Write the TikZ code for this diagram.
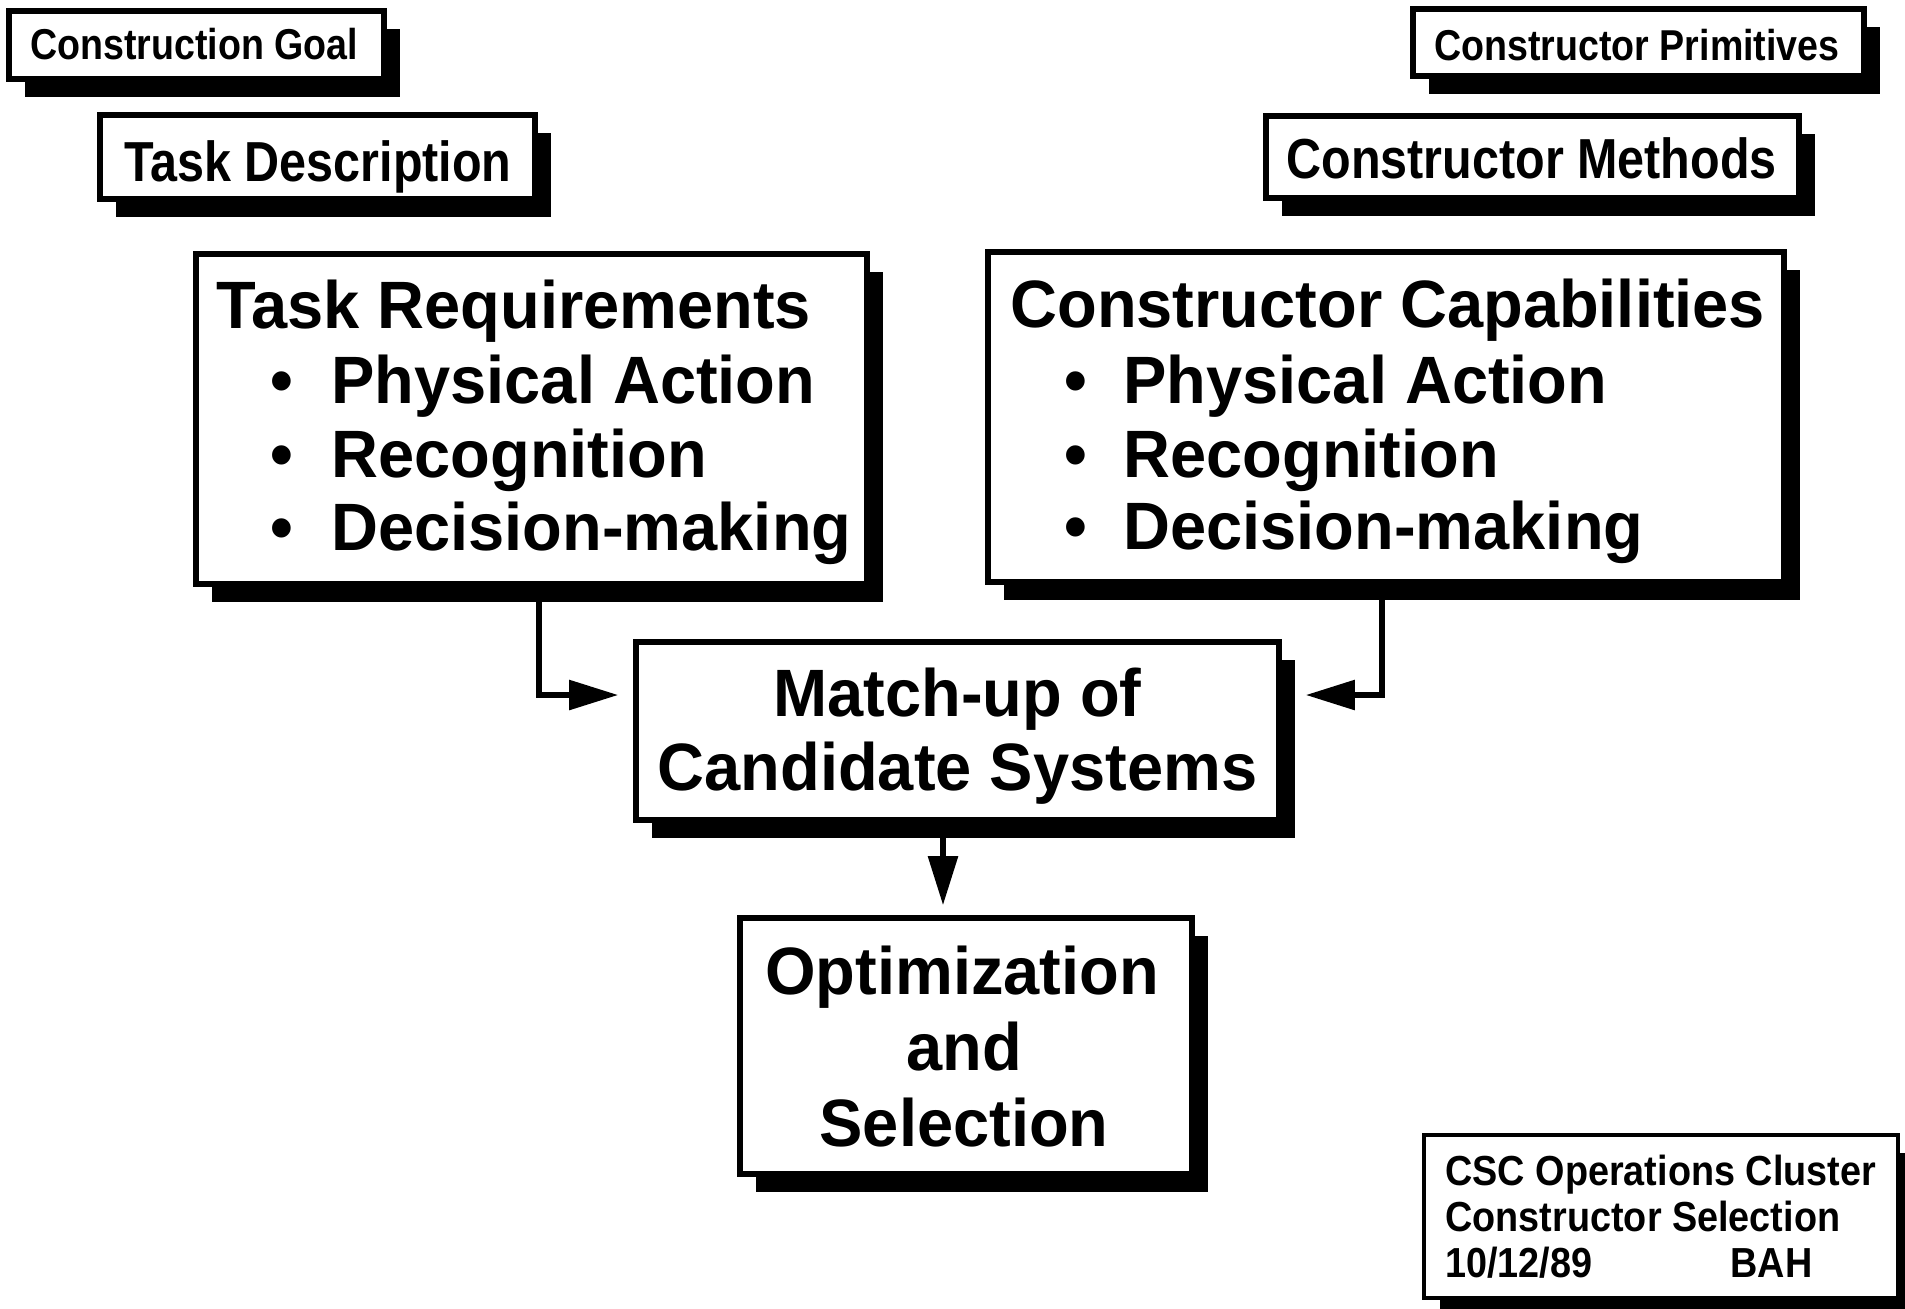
\documentclass[tikz,border=0pt]{standalone}
\usepackage{fontspec}
\setmainfont{Liberation Sans}
\newfontfamily\fontL[FakeStretch=0.97]{Liberation Sans}
\newfontfamily\fontM[FakeStretch=0.86]{Liberation Sans}
\newfontfamily\fontS[FakeStretch=0.87]{Liberation Sans}
\newfontfamily\fontC[FakeStretch=0.9]{Liberation Sans}
\usetikzlibrary{arrows.meta,shadows,fit,calc}
\begin{document}
\begin{tikzpicture}[x=0.5pt,y=-0.5pt,
  box/.style={draw=black, line width=2.8pt, fill=white, inner sep=0pt,
    drop shadow={shadow xshift=8pt, shadow yshift=-9pt, fill=black, opacity=1}},
  thinbox/.style={box, line width=2.2pt},
  conn/.style={line width=2.8pt, -{Triangle[length=24.5pt,width=14.5pt]}},
  lt/.style={inner sep=0pt, anchor=base west},
  ct/.style={inner sep=0pt, anchor=base},
  big/.style={font=\fontL\bfseries\fontsize{33.5}{40}\selectfont},
  mid/.style={font=\fontM\bfseries\fontsize{28.2}{34}\selectfont},
  sml/.style={font=\fontS\bfseries\fontsize{21.6}{26}\selectfont},
  csc/.style={font=\fontC\bfseries\fontsize{21}{25}\selectfont}]
\useasboundingbox[fill=white] (0,0) rectangle (1905,1308);

% boxes
\node[box, fit={(9,11)(384,79)}] (cg) {};
\node[box, fit={(100,115)(535,199)}] (td) {};
\node[box, fit={(1413,9)(1864,76)}] (cp) {};
\node[box, fit={(1266,116)(1799,198)}] (cm) {};
\node[box, fit={(196,254)(867,584)}] (tr) {};
\node[box, fit={(988,252)(1784,582)}] (cc) {};
\node[box, fit={(636,642)(1279,820)}] (mu) {};
\node[box, fit={(740,918)(1192,1174)}] (os) {};
\node[thinbox, fit={(1424,1135)(1898,1298)}] (cs) {};

% small / medium labels
\node[lt, sml] (cgt) at (30,59) {Construction Goal};
\node[lt, mid] (tdt) at (124,181) {Task Description};
\node[lt, sml] (cpt) at (1434,60) {Constructor Primitives};
\node[lt, mid] (cmt) at (1286,178) {Constructor Methods};

% task requirements
\node[lt, big] (trh) at (216,328) {Task Requirements};
\node[ct, big] (trb1) at (282,403) {\textbullet};
\node[ct, big] (trb2) at (282,477) {\textbullet};
\node[ct, big] (trb3) at (282,550) {\textbullet};
\node[lt, big] (tr1) at (331,403) {Physical Action};
\node[lt, big] (tr2) at (331,477) {Recognition};
\node[lt, big] (tr3) at (331,550) {Decision-making};

% constructor capabilities
\node[lt, big] (cch) at (1010,327) {Constructor Capabilities};
\node[ct, big] (ccb1) at (1076,403) {\textbullet};
\node[ct, big] (ccb2) at (1076,477) {\textbullet};
\node[ct, big] (ccb3) at (1076,549) {\textbullet};
\node[lt, big] (cc1) at (1123,403) {Physical Action};
\node[lt, big] (cc2) at (1123,477) {Recognition};
\node[lt, big] (cc3) at (1123,549) {Decision-making};

% match-up
\node[ct, big] (mu1) at (957.5,716) {Match-up of};
\node[ct, big] (mu2) at (957.5,790) {Candidate Systems};

% optimization
\node[ct, big] (os1) at (962,994) {Optimization};
\node[ct, big] (os2) at (964,1070) {and};
\node[ct, big] (os3) at (964,1146) {Selection};

% stamp
\node[lt, csc] (cs1) at (1445,1185) {CSC Operations Cluster};
\node[lt, csc] (cs2) at (1445,1231) {Constructor Selection};
\node[lt, csc] (cs3) at (1445,1277) {10/12/89};
\node[lt, csc] (cs4) at (1730,1277) {BAH};

% connectors
\draw[conn] ([xshift=3.75pt]tr.south) |- ([xshift=-7.5pt,yshift=18pt]mu.west);
\draw[conn] ([xshift=-2pt]cc.south) |- ([xshift=12pt,yshift=18pt]mu.east);
\draw[conn] ([xshift=-7.25pt]mu.south) -- ($(mu.south |- os.north)+(-7.25pt,5pt)$);
\end{tikzpicture}
\end{document}
